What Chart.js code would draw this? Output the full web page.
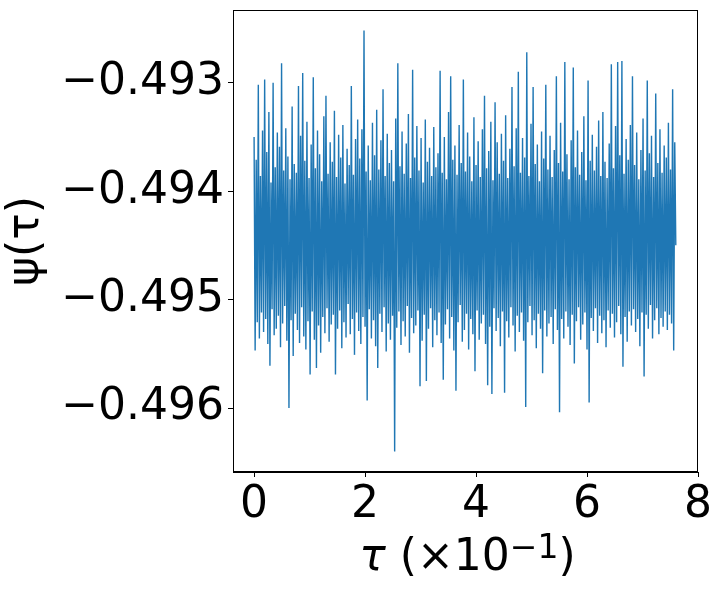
<!DOCTYPE html>
<html>
<head>
<meta charset="utf-8">
<script src="https://cdn.jsdelivr.net/npm/chart.js@4"></script>
<style>
  html, body { margin: 0; padding: 0; background: #fff; }
  #wrap { width: 721px; height: 589px; }
</style>
</head>
<body>
<div id="wrap"><canvas id="psiChart" width="721" height="589"></canvas></div>
<script>
// time span of the series, in units of 1e-1
const TAU_START = 0;
const TAU_END = 7.6;

const X_TICKS = [0, 2, 4, 6, 8];
const Y_TICKS = [-0.493, -0.494, -0.495, -0.496];

// psi(tau) left to right
const PSI = [
  -0.49350, -0.49547, -0.49371, -0.49521, -0.49302, -0.49536, -0.49386, -0.49512, -0.49344, -0.49530,
  -0.49297, -0.49518, -0.49364, -0.49541, -0.49327, -0.49561, -0.49392, -0.49509, -0.49300, -0.49533,
  -0.49378, -0.49527, -0.49346, -0.49515, -0.49359, -0.49544, -0.49282, -0.49522, -0.49381, -0.49506,
  -0.49342, -0.49538, -0.49368, -0.49600, -0.49389, -0.49519, -0.49322, -0.49552, -0.49375, -0.49513,
  -0.49383, -0.49528, -0.49303, -0.49540, -0.49349, -0.49507, -0.49291, -0.49534, -0.49372, -0.49546,
  -0.49336, -0.49520, -0.49388, -0.49569, -0.49357, -0.49511, -0.49295, -0.49537, -0.49379, -0.49563,
  -0.49344, -0.49524, -0.49366, -0.49549, -0.49391, -0.49516, -0.49331, -0.49531, -0.49312, -0.49508,
  -0.49384, -0.49539, -0.49355, -0.49523, -0.49373, -0.49514, -0.49326, -0.49569, -0.49387, -0.49527,
  -0.49348, -0.49510, -0.49369, -0.49545, -0.49339, -0.49521, -0.49393, -0.49535, -0.49361, -0.49504,
  -0.49376, -0.49532, -0.49303, -0.49518, -0.49385, -0.49551, -0.49352, -0.49512, -0.49334, -0.49529,
  -0.49370, -0.49541, -0.49343, -0.49516, -0.49252, -0.49525, -0.49382, -0.49593, -0.49358, -0.49509,
  -0.49390, -0.49536, -0.49337, -0.49519, -0.49367, -0.49543, -0.49325, -0.49563, -0.49380, -0.49513,
  -0.49353, -0.49530, -0.49306, -0.49507, -0.49386, -0.49548, -0.49347, -0.49522, -0.49374, -0.49537,
  -0.49362, -0.49515, -0.49391, -0.49640, -0.49333, -0.49526, -0.49282, -0.49511, -0.49377, -0.49542,
  -0.49345, -0.49520, -0.49384, -0.49534, -0.49356, -0.49506, -0.49329, -0.49549, -0.49388, -0.49517,
  -0.49288, -0.49531, -0.49369, -0.49524, -0.49340, -0.49510, -0.49381, -0.49580, -0.49351, -0.49538,
  -0.49392, -0.49514, -0.49334, -0.49575, -0.49373, -0.49527, -0.49360, -0.49508, -0.49386, -0.49544,
  -0.49341, -0.49519, -0.49378, -0.49533, -0.49365, -0.49512, -0.49289, -0.49540, -0.49383, -0.49574,
  -0.49350, -0.49523, -0.49389, -0.49509, -0.49327, -0.49536, -0.49294, -0.49516, -0.49371, -0.49547,
  -0.49358, -0.49584, -0.49385, -0.49521, -0.49339, -0.49505, -0.49374, -0.49539, -0.49297, -0.49528,
  -0.49382, -0.49513, -0.49346, -0.49546, -0.49368, -0.49518, -0.49391, -0.49532, -0.49332, -0.49566,
  -0.49376, -0.49510, -0.49354, -0.49537, -0.49387, -0.49522, -0.49343, -0.49514, -0.49312, -0.49541,
  -0.49379, -0.49579, -0.49363, -0.49525, -0.49336, -0.49587, -0.49390, -0.49508, -0.49318, -0.49529,
  -0.49355, -0.49517, -0.49384, -0.49543, -0.49347, -0.49511, -0.49372, -0.49586, -0.49330, -0.49520,
  -0.49388, -0.49535, -0.49361, -0.49507, -0.49304, -0.49524, -0.49377, -0.49548, -0.49342, -0.49515,
  -0.49290, -0.49530, -0.49383, -0.49512, -0.49351, -0.49538, -0.49369, -0.49599, -0.49272, -0.49521,
  -0.49386, -0.49506, -0.49338, -0.49533, -0.49304, -0.49519, -0.49375, -0.49545, -0.49357, -0.49513,
  -0.49391, -0.49527, -0.49345, -0.49568, -0.49370, -0.49510, -0.49302, -0.49534, -0.49380, -0.49522,
  -0.49349, -0.49516, -0.49387, -0.49541, -0.49362, -0.49509, -0.49294, -0.49528, -0.49374, -0.49604,
  -0.49337, -0.49518, -0.49382, -0.49536, -0.49281, -0.49511, -0.49366, -0.49525, -0.49389, -0.49542,
  -0.49353, -0.49514, -0.49286, -0.49559, -0.49378, -0.49520, -0.49344, -0.49507, -0.49385, -0.49537,
  -0.49364, -0.49523, -0.49331, -0.49512, -0.49390, -0.49546, -0.49298, -0.49595, -0.49372, -0.49517,
  -0.49348, -0.49529, -0.49381, -0.49508, -0.49359, -0.49540, -0.49335, -0.49515, -0.49386, -0.49531,
  -0.49327, -0.49519, -0.49373, -0.49544, -0.49388, -0.49510, -0.49356, -0.49526, -0.49283, -0.49513,
  -0.49379, -0.49535, -0.49340, -0.49521, -0.49281, -0.49506, -0.49367, -0.49532, -0.49280, -0.49562,
  -0.49384, -0.49516, -0.49352, -0.49539, -0.49371, -0.49511, -0.49339, -0.49524, -0.49294, -0.49509,
  -0.49376, -0.49530, -0.49346, -0.49518, -0.49389, -0.49543, -0.49362, -0.49512, -0.49333, -0.49571,
  -0.49381, -0.49514, -0.49298, -0.49527, -0.49365, -0.49505, -0.49349, -0.49536, -0.49387, -0.49519,
  -0.49310, -0.49508, -0.49374, -0.49532, -0.49343, -0.49517, -0.49383, -0.49525, -0.49358, -0.49511,
  -0.49369, -0.49528, -0.49337, -0.49514, -0.49380, -0.49522, -0.49306, -0.49547, -0.49355, -0.49450
];

const FONT = "'DejaVu Sans', sans-serif";

function main() {
  // evenly sampled time grid
  const step = (TAU_END - TAU_START) / (PSI.length - 1);
  const points = PSI.map((v, i) => ({ x: TAU_START + i * step, y: v }));

  const fmtMinus = v => (v < 0 ? '\u2212' : '') + Math.abs(v).toFixed(3);

  const ctx = document.getElementById('psiChart').getContext('2d');
  new Chart(ctx, {
    type: 'line',
    data: {
      datasets: [{
        data: points,
        borderColor: '#1f77b4',
        borderWidth: 1.4,
        pointRadius: 0,
        tension: 0,
        fill: false
      }]
    },
    options: {
      responsive: false,
      animation: false,
      events: [],
      layout: { padding: { top: 10, right: 23, left: 0, bottom: 0 } },
      plugins: { legend: { display: false }, tooltip: { enabled: false } },
      scales: {
        x: {
          type: 'linear',
          min: -0.38,
          max: 8.0,
          afterBuildTicks: s => { s.ticks = X_TICKS.map(v => ({ value: v })); },
          afterFit: s => { s.height = 117; s.paddingLeft = 0; s.paddingRight = 0; },
          grid: { drawOnChartArea: false, tickLength: 5, tickColor: '#000', tickWidth: 1 },
          border: { color: '#000', width: 1 },
          ticks: {
            color: '#000', font: { family: FONT, size: 44 }, padding: 2,
            maxRotation: 0, callback: v => String(v)
          },
          title: { display: false }
        },
        y: {
          type: 'linear',
          min: -0.49659,
          max: -0.49233,
          afterBuildTicks: s => { s.ticks = Y_TICKS.map(v => ({ value: v })); },
          afterFit: s => { s.width = 233; s.paddingTop = 0; s.paddingBottom = 0; },
          grid: { drawOnChartArea: false, tickLength: 5, tickColor: '#000', tickWidth: 1 },
          border: { color: '#000', width: 1 },
          ticks: {
            color: '#000', font: { family: FONT, size: 44 }, padding: 4,
            callback: v => fmtMinus(v)
          },
          title: {
            display: true, text: '\u03c8(\u03c4)', color: '#000',
            font: { family: FONT, size: 44 }, padding: { top: 0, bottom: 4 }
          }
        }
      }
    },
    plugins: [{
      id: 'frame',
      // closed box round the plot plus the x label with italic tau and a superscript
      afterDraw(chart) {
        const a = chart.chartArea, c = chart.ctx;
        c.save();
        c.strokeStyle = '#000';
        c.lineWidth = 1;
        c.strokeRect(a.left + 0.5, a.top + 0.5, a.right - a.left - 1, a.bottom - a.top - 1);

        const parts = [
          { t: '\u03c4', f: "oblique 44px 'DejaVu Sans'", dy: 0 },
          { t: ' (\u00d710', f: "44px 'DejaVu Sans'", dy: 0 },
          { t: '\u22121', f: "33px 'DejaVu Sans'", dy: -12 },
          { t: ')', f: "44px 'DejaVu Sans'", dy: 0 }
        ];
        let total = 0;
        parts.forEach(p => { c.font = p.f; p.w = c.measureText(p.t).width; total += p.w; });
        let x = (a.left + a.right) / 2 + 2 - total / 2;
        const base = 570;
        c.fillStyle = '#000';
        c.textBaseline = 'alphabetic';
        c.textAlign = 'left';
        parts.forEach(p => { c.font = p.f; c.fillText(p.t, x, base + p.dy); x += p.w; });
        c.restore();
      }
    }]
  });
}

window.onload = function () {
  main();
};
</script>
</body>
</html>
